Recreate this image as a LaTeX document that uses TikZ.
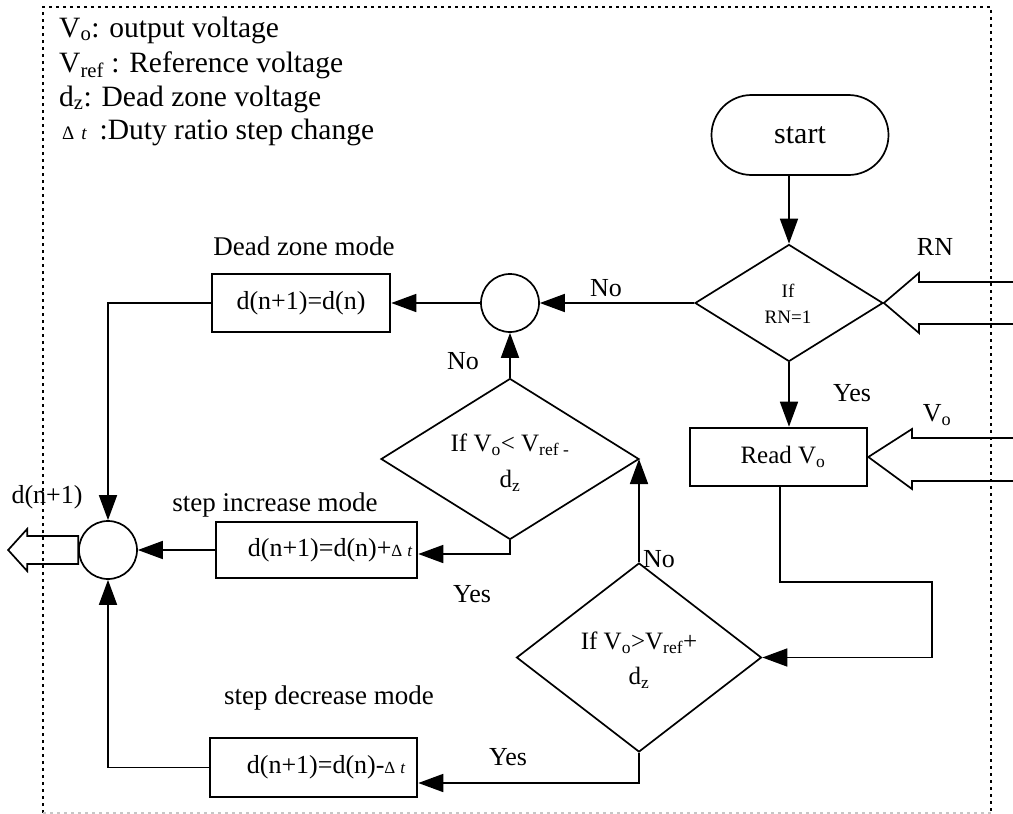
\documentclass[tikz,border=0pt]{standalone}
\usepackage{fontspec}
\setmainfont{Liberation Serif}
\usetikzlibrary{arrows.meta,shapes.geometric}
\newcommand\mydt{{\fontsize{17}{20}\selectfont Δ\hspace{5pt}\itshape t}}
\begin{document}
\begin{tikzpicture}[x=1pt,y=-1pt,
  every node/.style={font=\fontsize{25}{30}\selectfont, inner sep=0pt},
  ln/.style={line width=1.7pt},
  arr/.style={ln, -{Triangle[length=25pt,width=18pt]}},
  box/.style={draw, line width=2.6pt, rectangle, inner sep=0pt},
  dia/.style={draw, line width=1.7pt, diamond, inner sep=0pt},
  circ/.style={draw, line width=1.7pt, circle, minimum size=58pt, inner sep=0pt},
  small/.style={font=\fontsize{19}{23}\selectfont},
  lab/.style={font=\fontsize{26}{30}\selectfont},
  modelab/.style={font=\fontsize{27}{30}\selectfont},
  legend/.style={anchor=base west, font=\fontsize{29.5}{34}\selectfont},
  border/.style={line width=1.4pt, dash pattern=on 3pt off 4pt}
]
\useasboundingbox (0,0) rectangle (1013,814);
% border
\draw[border] (43,813) -- (43,7) -- (991,7) -- (991,813);
\draw[border, gray!45] (43,813) -- (991,813);
% legend
\node[legend] (lg1) at (59,37) {V\textsubscript{o}: output voltage};
\node[legend] (lg2) at (59,72) {V\textsubscript{ref} : Reference voltage};
\node[legend] (lg3) at (59,106) {d\textsubscript{z}: Dead zone voltage};
\node[legend] (lg4) at (62,139) {{\fontsize{19}{20}\selectfont Δ\hspace{7pt}\itshape t}\hspace{13pt}:Duty ratio step change};
% nodes
\node[draw, ln, rounded corners=40pt, minimum width=177pt, minimum height=80pt, font=\fontsize{30}{32}\selectfont] (start) at (800,135) {start};
\node[dia, minimum width=188pt, minimum height=117pt] (d1) at (789,303) {};
\node[small] (t1a) at (788,291) {If};
\node[small] (t1b) at (788,317) {RN=1};
\node[box, minimum width=177pt, minimum height=58pt] (read) at (778.5,457) {};
\node (readt) at (783,457) {Read V\textsubscript{o}};
\node[circ] (sc) at (510,303) {};
\node[box, minimum width=178pt, minimum height=58pt, font=\fontsize{26}{30}\selectfont] (dz) at (301,303) {d(n+1)=d(n)};
\node[dia, minimum width=258pt, minimum height=161pt] (d2) at (510,459) {};
\node (t2a) at (510,445) {If V\textsubscript{o}< V\textsubscript{ref -}};
\node (t2b) at (510,481) {d\textsubscript{z}};
\node[box, minimum width=201pt, minimum height=56pt] (inc) at (316.5,550) {};
\node[lab] (inct) at (330,550) {d(n+1)=d(n)+\mydt};
\node[circ] (bc) at (108,550) {};
\node[dia, minimum width=245pt, minimum height=189pt] (d3) at (639,657.5) {};
\node (t3a) at (639,643) {If V\textsubscript{o}>V\textsubscript{ref}+};
\node (t3b) at (639,678) {d\textsubscript{z}};
\node[box, minimum width=207pt, minimum height=59pt] (dec) at (313.5,767.5) {};
\node[lab] (dect) at (326,767) {d(n+1)=d(n)-\mydt};
% labels
\node[lab] (lRN) at (935,247) {RN};
\node[lab] (lVo) at (937,415) {V\textsubscript{o}};
\node[lab] (lY1) at (852,393) {Yes};
\node[lab] (lN1) at (606,288) {No};
\node[lab] (lN2) at (463,361) {No};
\node[lab] (lN3) at (659,559) {No};
\node[lab] (lY2) at (472,594) {Yes};
\node[lab] (lY3) at (508,757) {Yes};
\node[modelab] (ldz) at (304,246) {Dead zone mode};
\node[modelab] (linc) at (275,505) {step increase mode};
\node[modelab] (ldec) at (329,698) {step decrease mode};
\node[lab] (lout) at (47,497) {d(n+1)};
% coordinates
\path (read.south) ++(1.5,0) coordinate (rs);
\coordinate (loopR) at (932,582);
\path (inc.east) ++(0,4) coordinate (incin);
\path (dec.east) ++(0,15.5) coordinate (decin);
% connectors
\draw[arr] (start.south -| d1.north) -- (d1.north);
\draw[arr] (d1.south) -- (d1.south |- read.north);
\draw[arr] (d1.west) -- (sc.east);
\draw[arr] (sc.west) -- (dz.east);
\draw[arr] (d2.north) -- (sc.south);
\draw[arr] (d3.north) -- (d3.north |- d2.east);
\draw[arr] (d2.south) |- (incin);
\draw[arr] (inc.west) -- (bc.east);
\draw[arr] (dz.west) -| (bc.north);
\draw[arr] (dec.west) -| (bc.south);
\draw[arr] (d3.south) |- (decin);
\draw[arr] (rs) |- (loopR) |- (d3.east);
% hollow input arrows
\draw[ln] (1013,282) -- (919,282) -- (919,273) -- (d1.east) -- (919,333) -- (919,324) -- (1013,324);
\draw[ln] (1013,438) -- (912,438) -- (912,429) -- (read.east) -- (912,489) -- (912,481) -- (1013,481);
% hollow output arrow
\draw[ln] (bc.west) ++(0,-14) -- ++(-51,0) -- ++(0,-7) -- ++(-19,21) -- ++(19,21) -- ++(0,-7) -- ++(51,0) -- cycle;
\end{tikzpicture}
\end{document}
